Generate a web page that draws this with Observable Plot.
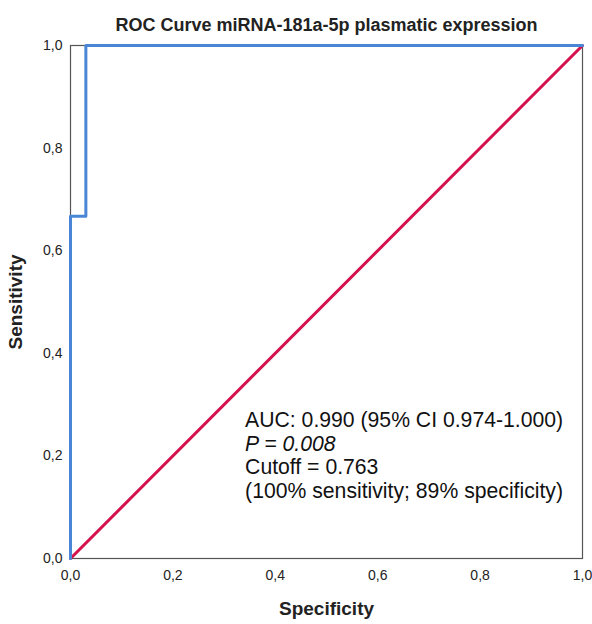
<!DOCTYPE html>
<html><head><meta charset="utf-8">
<script src="https://cdn.jsdelivr.net/npm/d3@7"></script>
<script src="https://cdn.jsdelivr.net/npm/@observablehq/plot@0.6"></script>
<style>body{margin:0;background:#fff;font-family:"Liberation Sans",Arial,sans-serif;}</style>
</head><body><div id="chart"></div>
<script>
const title = "ROC Curve miRNA-181a-5p plasmatic expression";
const rocX = [0, 0, 0.03, 0.03, 1];
const rocY = [0, 0.667, 0.667, 1, 1];
const refX = [0, 1];
const refY = [0, 1];
const ticks = [0, 0.2, 0.4, 0.6, 0.8, 1];
const annotation = ["AUC: 0.990 (95% CI 0.974-1.000)", "P = 0.008", "Cutoff = 0.763", "(100% sensitivity; 89% specificity)"];

const roc = rocX.map((x, i) => ({x, y: rocY[i]}));
const ref = refX.map((x, i) => ({x, y: refY[i]}));
const fmt = d => d.toFixed(1).replace(".", ",");

const chart = Plot.plot({
  width: 592, height: 624,
  marginLeft: 70, marginRight: 10, marginTop: 45, marginBottom: 66,
  style: {fontFamily: "'Liberation Sans', Arial, sans-serif", fontSize: "14px", color: "#222"},
  x: {domain: [0, 1], ticks, tickFormat: fmt, tickSize: 0, tickPadding: 12, label: "Specificity", labelAnchor: "center", labelArrow: "none", labelOffset: 56},
  y: {domain: [0, 1], ticks, tickFormat: fmt, tickSize: 0, tickPadding: 8, label: "Sensitivity", labelAnchor: "center", labelArrow: "none", labelOffset: 62},
  marks: [
    Plot.frame({stroke: "#555", strokeWidth: 1.2}),
    Plot.line(ref, {x: "x", y: "y", stroke: "#d4124e", strokeWidth: 3}),
    Plot.line(roc, {x: "x", y: "y", stroke: "#4a86d6", strokeWidth: 3}),
    Plot.text([title], {frameAnchor: "top", dy: -27, fontSize: 18, fontWeight: "bold", fill: "#222"})
  ]
});
d3.select(chart).selectAll("g[aria-label='x-axis label'] text, g[aria-label='y-axis label'] text")
  .style("font-weight", "bold").style("font-size", "19px");
document.getElementById("chart").appendChild(chart);

const sx = chart.scale("x"), sy = chart.scale("y");
const svg = d3.select(chart);
const g = svg.append("g").attr("font-size", 21.2).attr("fill", "#111").attr("text-anchor", "start");
annotation.forEach((t, i) => {
  const el = g.append("text").attr("x", sx.apply(0.342)).attr("y", sy.apply(0.255) + i * 23.5);
  if (t.startsWith("P =")) el.attr("font-style", "italic");
  el.text(t);
});
</script></body></html>
